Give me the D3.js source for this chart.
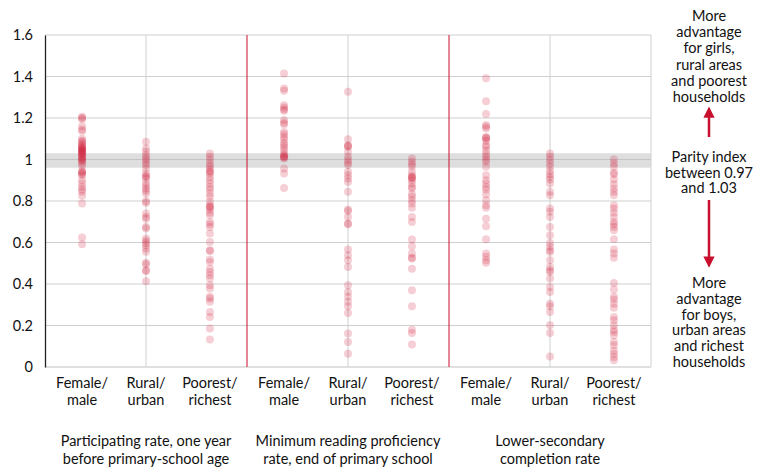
<!DOCTYPE html>
<html>
<head>
<meta charset="utf-8">
<script src="https://cdn.jsdelivr.net/npm/d3@7"></script>
<style>
  body { margin: 0; background: #fff; }
  svg text { font-family: Lato, "Open Sans", sans-serif; fill: #111; }
</style>
</head>
<body>
<div id="chart"></div>
<script>
// Parity index strip plot, three indicators x three parity types

const indicators = ["Participation", "Reading", "Completion"];
const indicatorLabels = [
    ["Participating rate, one year", "before primary-school age"],
    ["Minimum reading proficiency", "rate, end of primary school"],
    ["Lower-secondary", "completion rate"]
];
const parityTypes = ["Female/male", "Rural/urban", "Poorest/richest"];
const parityLabels = [["Female/", "male"], ["Rural/", "urban"], ["Poorest/", "richest"]];
const yTicks = [0, 0.2, 0.4, 0.6, 0.8, 1, 1.2, 1.4, 1.6];
const parityBand = [0.97, 1.03];

const topNote = ["More", "advantage", "for girls,", "rural areas", "and poorest", "households"];
const midNote = ["Parity index", "between 0.97", "and 1.03"];
const bottomNote = ["More", "advantage", "for boys,", "urban areas", "and richest", "households"];

// Participation rate, one year before primary
const participationFemale = [1.206, 1.2, 1.195, 1.16, 1.145, 1.137, 1.10, 1.09, 1.085, 1.077, 1.07, 1.064,
    1.06, 1.055, 1.053, 1.05, 1.045, 1.042, 1.04, 1.035, 1.032, 1.03, 1.025, 1.02, 1.013, 1.01, 1.005, 1.0,
    0.997, 0.989, 0.981, 0.969, 0.945, 0.94, 0.936, 0.93, 0.924, 0.90, 0.884, 0.868, 0.855, 0.844, 0.825,
    0.788, 0.624, 0.592];
const participationRural = [1.085, 1.053, 1.037, 1.021, 1.01, 0.997, 0.984, 0.973, 0.957, 0.932, 0.92, 0.918,
    0.908, 0.887, 0.873, 0.86, 0.849, 0.836, 0.799, 0.791, 0.74, 0.723, 0.715, 0.675, 0.667, 0.619, 0.608,
    0.598, 0.587, 0.571, 0.555, 0.502, 0.495, 0.466, 0.463, 0.413];
const participationPoorest = [1.029, 1.013, 0.997, 0.981, 0.969, 0.957, 0.945, 0.94, 0.932, 0.916, 0.90,
    0.884, 0.868, 0.855, 0.836, 0.82, 0.796, 0.78, 0.772, 0.77, 0.759, 0.743, 0.732, 0.699, 0.688, 0.675,
    0.643, 0.603, 0.563, 0.559, 0.518, 0.506, 0.474, 0.458, 0.442, 0.426, 0.394, 0.378, 0.338, 0.33, 0.314,
    0.265, 0.241, 0.185, 0.133];

// Minimum reading proficiency, end of primary
const readingFemale = [1.415, 1.342, 1.331, 1.262, 1.251, 1.241, 1.235, 1.19, 1.177, 1.17, 1.133, 1.122,
    1.109, 1.096, 1.08, 1.069, 1.058, 1.045, 1.029, 1.021, 1.015, 1.013, 1.01, 1.005, 0.957, 0.932, 0.863];
const readingRural = [1.326, 1.098, 1.069, 1.065, 1.061, 1.037, 1.013, 0.997, 0.984, 0.973, 0.941, 0.924,
    0.908, 0.892, 0.844, 0.759, 0.752, 0.723, 0.691, 0.688, 0.566, 0.539, 0.514, 0.482, 0.394, 0.362, 0.338,
    0.314, 0.293, 0.26, 0.161, 0.121, 0.064];
const readingPoorest = [1.005, 0.989, 0.977, 0.965, 0.941, 0.924, 0.916, 0.913, 0.91, 0.90, 0.884, 0.868,
    0.86, 0.833, 0.82, 0.804, 0.788, 0.768, 0.723, 0.699, 0.614, 0.582, 0.547, 0.527, 0.523, 0.474, 0.37,
    0.293, 0.18, 0.164, 0.109];

// Lower-secondary completion rate
const completionFemale = [1.391, 1.281, 1.219, 1.166, 1.158, 1.15, 1.109, 1.105, 1.101, 1.09, 1.069, 1.061,
    1.042, 1.026, 1.013, 1.0, 0.989, 0.965, 0.924, 0.9, 0.884, 0.868, 0.855, 0.833, 0.804, 0.78, 0.768,
    0.715, 0.678, 0.616, 0.547, 0.531, 0.514, 0.502];
const completionRural = [1.029, 1.013, 0.997, 0.981, 0.965, 0.945, 0.929, 0.916, 0.904, 0.884, 0.844,
    0.828, 0.764, 0.748, 0.723, 0.675, 0.635, 0.598, 0.579, 0.563, 0.555, 0.514, 0.482, 0.466, 0.458, 0.426,
    0.386, 0.362, 0.305, 0.293, 0.265, 0.201, 0.164, 0.051];
const completionPoorest = [1.0, 0.981, 0.965, 0.936, 0.929, 0.904, 0.881, 0.86, 0.844, 0.828, 0.78, 0.764,
    0.743, 0.723, 0.699, 0.688, 0.675, 0.659, 0.616, 0.566, 0.547, 0.527, 0.405, 0.373, 0.338, 0.325, 0.305,
    0.286, 0.241, 0.225, 0.201, 0.18, 0.169, 0.153, 0.121, 0.105, 0.08, 0.064, 0.048, 0.032];

const seriesValues = [
    [participationFemale, participationRural, participationPoorest],
    [readingFemale, readingRural, readingPoorest],
    [completionFemale, completionRural, completionPoorest]
];

const width = 770;
const height = 467;
const margin = { top: 35, right: 119, bottom: 100, left: 45 };
const red = "#c8102e";

const svg = d3.select("#chart").append("svg")
    .attr("width", width)
    .attr("height", height);

// Scales
const xPanel = d3.scaleBand()
    .domain(indicators)
    .range([margin.left, width - margin.right]);

const xPair = d3.scalePoint()
    .domain(parityTypes)
    .range([0, xPanel.bandwidth()])
    .padding(0.58);

const y = d3.scaleLinear()
    .domain([0, 1.6])
    .range([height - margin.bottom, margin.top]);

// Horizontal grid
svg.append("g")
    .selectAll("line")
    .data(yTicks.filter(d => d > 0))
    .join("line")
    .attr("x1", margin.left)
    .attr("x2", width - margin.right)
    .attr("y1", d => y(d))
    .attr("y2", d => y(d))
    .attr("stroke", "#cfcfcf")
    .attr("stroke-width", 1);

// Parity band
svg.append("rect")
    .attr("x", margin.left)
    .attr("width", width - margin.right - margin.left)
    .attr("y", y(parityBand[1]))
    .attr("height", y(parityBand[0]) - y(parityBand[1]) + 2)
    .attr("fill", "#dedede");

svg.append("line")
    .attr("x1", margin.left)
    .attr("x2", width - margin.right)
    .attr("y1", y(1))
    .attr("y2", y(1))
    .attr("stroke", "#c4c4c4");

// Vertical gridlines at panel centers
svg.append("g")
    .selectAll("line")
    .data(indicators)
    .join("line")
    .attr("x1", d => xPanel(d) + xPair("Rural/urban"))
    .attr("x2", d => xPanel(d) + xPair("Rural/urban"))
    .attr("y1", margin.top)
    .attr("y2", height - margin.bottom)
    .attr("stroke", "#d0d0d0");

// Right border and bottom line
svg.append("line")
    .attr("x1", width - margin.right).attr("x2", width - margin.right)
    .attr("y1", margin.top).attr("y2", height - margin.bottom)
    .attr("stroke", "#d0d0d0");

svg.append("line")
    .attr("x1", margin.left).attr("x2", width - margin.right)
    .attr("y1", height - margin.bottom).attr("y2", height - margin.bottom)
    .attr("stroke", "#d6d6d6")
    .attr("stroke-width", 1.5);

// Red panel dividers
svg.append("g")
    .selectAll("line")
    .data(indicators.slice(1))
    .join("line")
    .attr("x1", d => xPanel(d))
    .attr("x2", d => xPanel(d))
    .attr("y1", margin.top)
    .attr("y2", height - margin.bottom)
    .attr("stroke", red)
    .attr("stroke-width", 1);

// Y axis
const yAxis = svg.append("g")
    .attr("transform", `translate(${margin.left}, 0)`)
    .call(d3.axisLeft(y).tickValues(yTicks).tickSize(0).tickPadding(12).tickFormat(d => String(d)));
yAxis.select(".domain").attr("stroke", "#222").attr("stroke-width", 1.3);
yAxis.selectAll("text")
    .style("font-size", "14.5px")
    .style("font-family", "Lato, 'Open Sans', sans-serif")
    .attr("fill", "#111");

// Dots
indicators.forEach((ind, i) => {
    parityTypes.forEach((p, j) => {
        const cx = xPanel(ind) + xPair(p);
        svg.append("g")
            .selectAll("circle")
            .data(seriesValues[i][j])
            .join("circle")
            .attr("cx", cx)
            .attr("cy", d => y(d))
            .attr("r", 4)
            .attr("fill", "#d2233f")
            .attr("fill-opacity", 0.22);
    });
});

// Category labels
indicators.forEach(ind => {
    parityTypes.forEach((p, j) => {
        const t = svg.append("text")
            .attr("x", xPanel(ind) + xPair(p))
            .attr("y", 388)
            .attr("text-anchor", "middle")
            .style("font-size", "14.5px");
        parityLabels[j].forEach((line, k) => {
            t.append("tspan")
                .attr("x", xPanel(ind) + xPair(p))
                .attr("dy", k === 0 ? 0 : 17)
                .text(line);
        });
    });
});

// Indicator labels
indicators.forEach((ind, i) => {
    const cx = xPanel(ind) + xPanel.bandwidth() / 2;
    const t = svg.append("text")
        .attr("x", cx)
        .attr("y", 446)
        .attr("text-anchor", "middle")
        .style("font-size", "14.5px");
    indicatorLabels[i].forEach((line, k) => {
        t.append("tspan").attr("x", cx).attr("dy", k === 0 ? 0 : 18).text(line);
    });
});

// Right annotation
const noteX = 709;
function note(lines, y0, lh) {
    const t = svg.append("text")
        .attr("x", noteX)
        .attr("y", y0)
        .attr("text-anchor", "middle")
        .style("font-size", "14.5px");
    lines.forEach((line, k) => {
        t.append("tspan").attr("x", noteX).attr("dy", k === 0 ? 0 : lh).text(line);
    });
}
note(topNote, 21, 16.2);
note(midNote, 162, 15.5);
note(bottomNote, 288, 15.8);

svg.append("defs").append("marker")
    .attr("id", "arrow")
    .attr("viewBox", "0 0 10 10")
    .attr("refX", 5)
    .attr("refY", 5)
    .attr("markerWidth", 4.5)
    .attr("markerHeight", 4.5)
    .attr("orient", "auto")
    .append("path")
    .attr("d", "M0,0 L10,5 L0,10 Z")
    .attr("fill", red);

svg.append("line")
    .attr("x1", noteX).attr("x2", noteX)
    .attr("y1", 137).attr("y2", 112)
    .attr("stroke", red).attr("stroke-width", 2.5)
    .attr("marker-end", "url(#arrow)");

svg.append("line")
    .attr("x1", noteX).attr("x2", noteX)
    .attr("y1", 200).attr("y2", 262)
    .attr("stroke", red).attr("stroke-width", 2.5)
    .attr("marker-end", "url(#arrow)");
</script>
</body>
</html>
